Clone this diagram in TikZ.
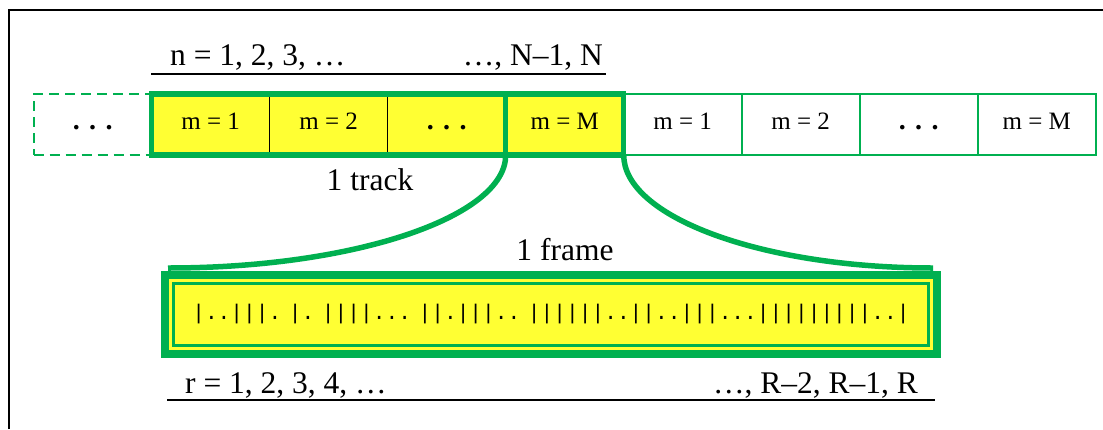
\documentclass[tikz,border=0pt]{standalone}
\usepackage{fontspec}
\setmainfont{Liberation Serif}
\newfontfamily\tallyfont{Liberation Mono}
\newcommand\tallygap{\hspace{7.6pt}}
\usetikzlibrary{positioning}
\definecolor{trackgreen}{RGB}{0,176,80}
\definecolor{trackyellow}{RGB}{255,255,51}
\begin{document}
\begin{tikzpicture}[x=1pt,y=-1pt,
  cell/.style={rectangle,minimum width=118pt,minimum height=61pt,inner sep=0pt,outer sep=0pt,text height=16pt,text depth=6pt,font=\fontsize{25}{29}\selectfont},
  oncell/.style={cell,fill=trackyellow,draw=black,line width=1.5pt},
  offcell/.style={cell,draw=trackgreen,line width=1.7pt},
  celldots/.style={font=\fontsize{28}{32}\selectfont\bfseries},
  label/.style={inner sep=0pt,font=\fontsize{31.5}{36}\selectfont},
  bold/.style={draw=trackgreen,line width=5.5pt},
]
\useasboundingbox (0,0) rectangle (1103,429);
% outer frame, cut by the page
\draw[line width=2pt] (9,429) -- (9,10) -- (1103,10);
% one track of M cells, then the next track
\node[oncell] (m1) at (210.7,124.5) {m = 1};
\node[oncell,right=0pt of m1] (m2) {m = 2};
\node[oncell,celldots,right=0pt of m2] (m3) {. . .};
\node[oncell,right=0pt of m3] (mM) {m = M};
\node[offcell,right=0pt of mM] (n1) {m = 1};
\node[offcell,right=0pt of n1] (n2) {m = 2};
\node[offcell,celldots,right=0pt of n2] (n3) {. . .};
\node[offcell,right=0pt of n3] (nM) {m = M};
\node[offcell,celldots,dash pattern=on 10pt off 6pt,left=0pt of m1] (prev) {. . .};
\draw[bold] (m1.north west) rectangle (mM.south east);
\draw[bold] (mM.north west) rectangle (mM.south east);
% labels
\node[label,anchor=base west] (nfirst) at (170,65) {n = 1, 2, 3, …};
\node[label,anchor=base east] (nlast) at (603,65) {…, N--1, N};
\draw[line width=1.5pt] (151,74) -- (606,74);
\node[label,anchor=base] (track) at (370,190) {1 track};
\node[label,anchor=base] (frametext) at (565,260) {1 frame};
% the frame
\node[rectangle,fill=trackyellow,draw=trackgreen,line width=8pt,minimum width=772pt,minimum height=79pt,inner sep=0pt] (frame) at (551,314.5) {};
\node[rectangle,draw=trackgreen,line width=2.7pt,minimum width=755.5pt,minimum height=62.5pt,inner sep=0pt,font=\tallyfont\fontsize{21.2}{25}\selectfont] (bits) at (frame.center) {|..|||.\tallygap|.\tallygap||||...\tallygap||.|||..\tallygap||||||..||..|||...|||||||||..|};
\coordinate (fl) at (168,268);
\coordinate (fr) at (933,268);
\draw[bold] (mM.south west) .. controls +(0,62) and +(186,0) .. (fl);
\draw[bold] (mM.south east) .. controls +(0,62) and +(-171,0) .. (fr);
\node[label,anchor=base west] (rfirst) at (185,393) {r = 1, 2, 3, 4, …};
\node[label,anchor=base east] (rlast) at (918,393) {…, R--2, R--1, R};
\draw[line width=1.5pt] (167,400) -- (935,400);
\end{tikzpicture}
\end{document}
